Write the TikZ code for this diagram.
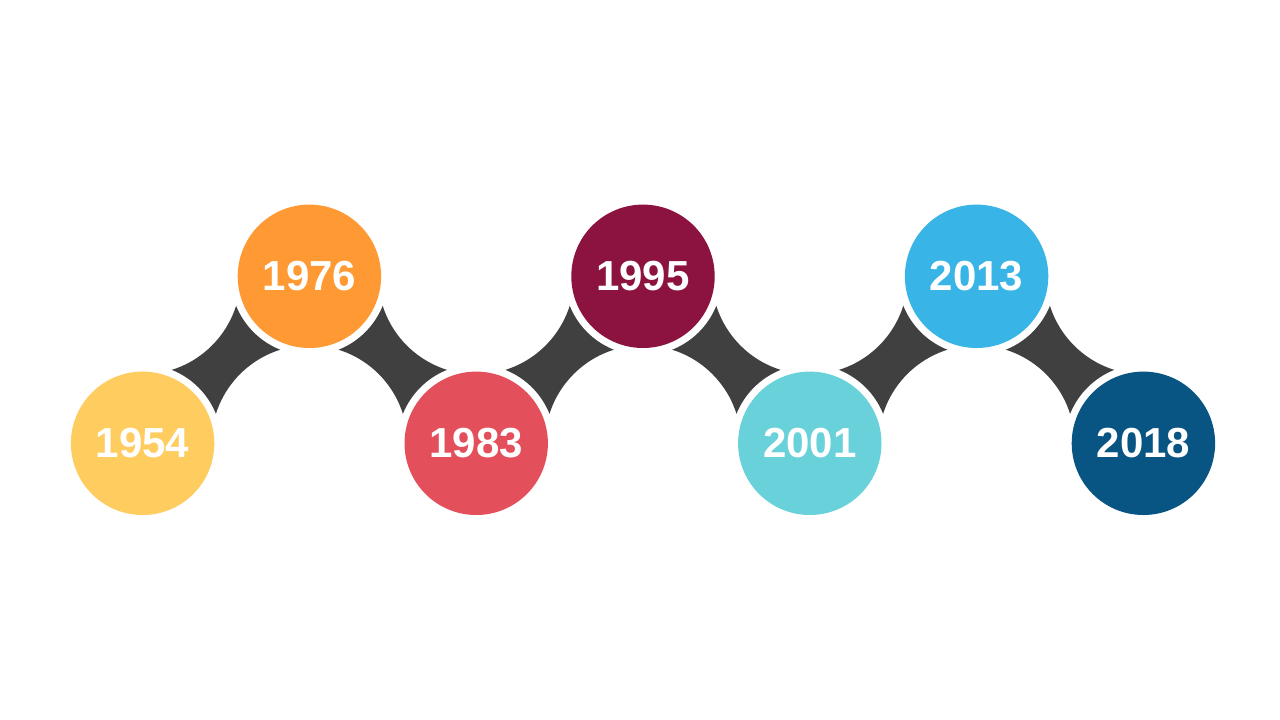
\documentclass[tikz,border=0pt]{standalone}
\usepackage{fontspec}
\setmainfont{Liberation Sans}
\usetikzlibrary{backgrounds}
\definecolor{cA}{HTML}{FFCC5F}
\definecolor{cB}{HTML}{FF9933}
\definecolor{cC}{HTML}{E3505C}
\definecolor{cD}{HTML}{8C1340}
\definecolor{cE}{HTML}{69D1DA}
\definecolor{cF}{HTML}{39B4E6}
\definecolor{cG}{HTML}{085482}
\definecolor{darkjoin}{HTML}{404040}
\tikzset{
  yearnode/.style={circle, fill=#1, minimum size=143.4pt, inner sep=0pt,
    text=white, font=\bfseries\fontsize{42}{42}\selectfont},
}
\newcommand{\joinstar}[2]{%
  \begin{scope}[even odd rule]
    \clip (0,0) rectangle (1280,720) (#1.center) circle (79pt);
    \clip (0,0) rectangle (1280,720) (#2.center) circle (79pt);
    \clip (0,0) rectangle (1280,720) (#1.center |- #2.center) circle (98pt);
    \clip (0,0) rectangle (1280,720) (#2.center |- #1.center) circle (98pt);
    \fill[darkjoin] (#1.center) rectangle (#2.center);
  \end{scope}}
\begin{document}
\begin{tikzpicture}[x=1pt,y=-1pt]
\useasboundingbox (0,0) rectangle (1280,720);
\node[yearnode=cA] (n1) at (142.6,443.3) {1954};
\node[yearnode=cB] (n2) at (309.4,276.3) {1976};
\node[yearnode=cC] (n3) at (476.2,443.3) {1983};
\node[yearnode=cD] (n4) at (643.0,276.3) {1995};
\node[yearnode=cE] (n5) at (809.8,443.3) {2001};
\node[yearnode=cF] (n6) at (976.6,276.3) {2013};
\node[yearnode=cG] (n7) at (1143.4,443.3) {2018};
\begin{scope}[on background layer]
\fill[white] (0,0) rectangle (1280,720);
\joinstar{n1}{n2}
\joinstar{n2}{n3}
\joinstar{n3}{n4}
\joinstar{n4}{n5}
\joinstar{n5}{n6}
\joinstar{n6}{n7}
\end{scope}
\end{tikzpicture}
\end{document}
